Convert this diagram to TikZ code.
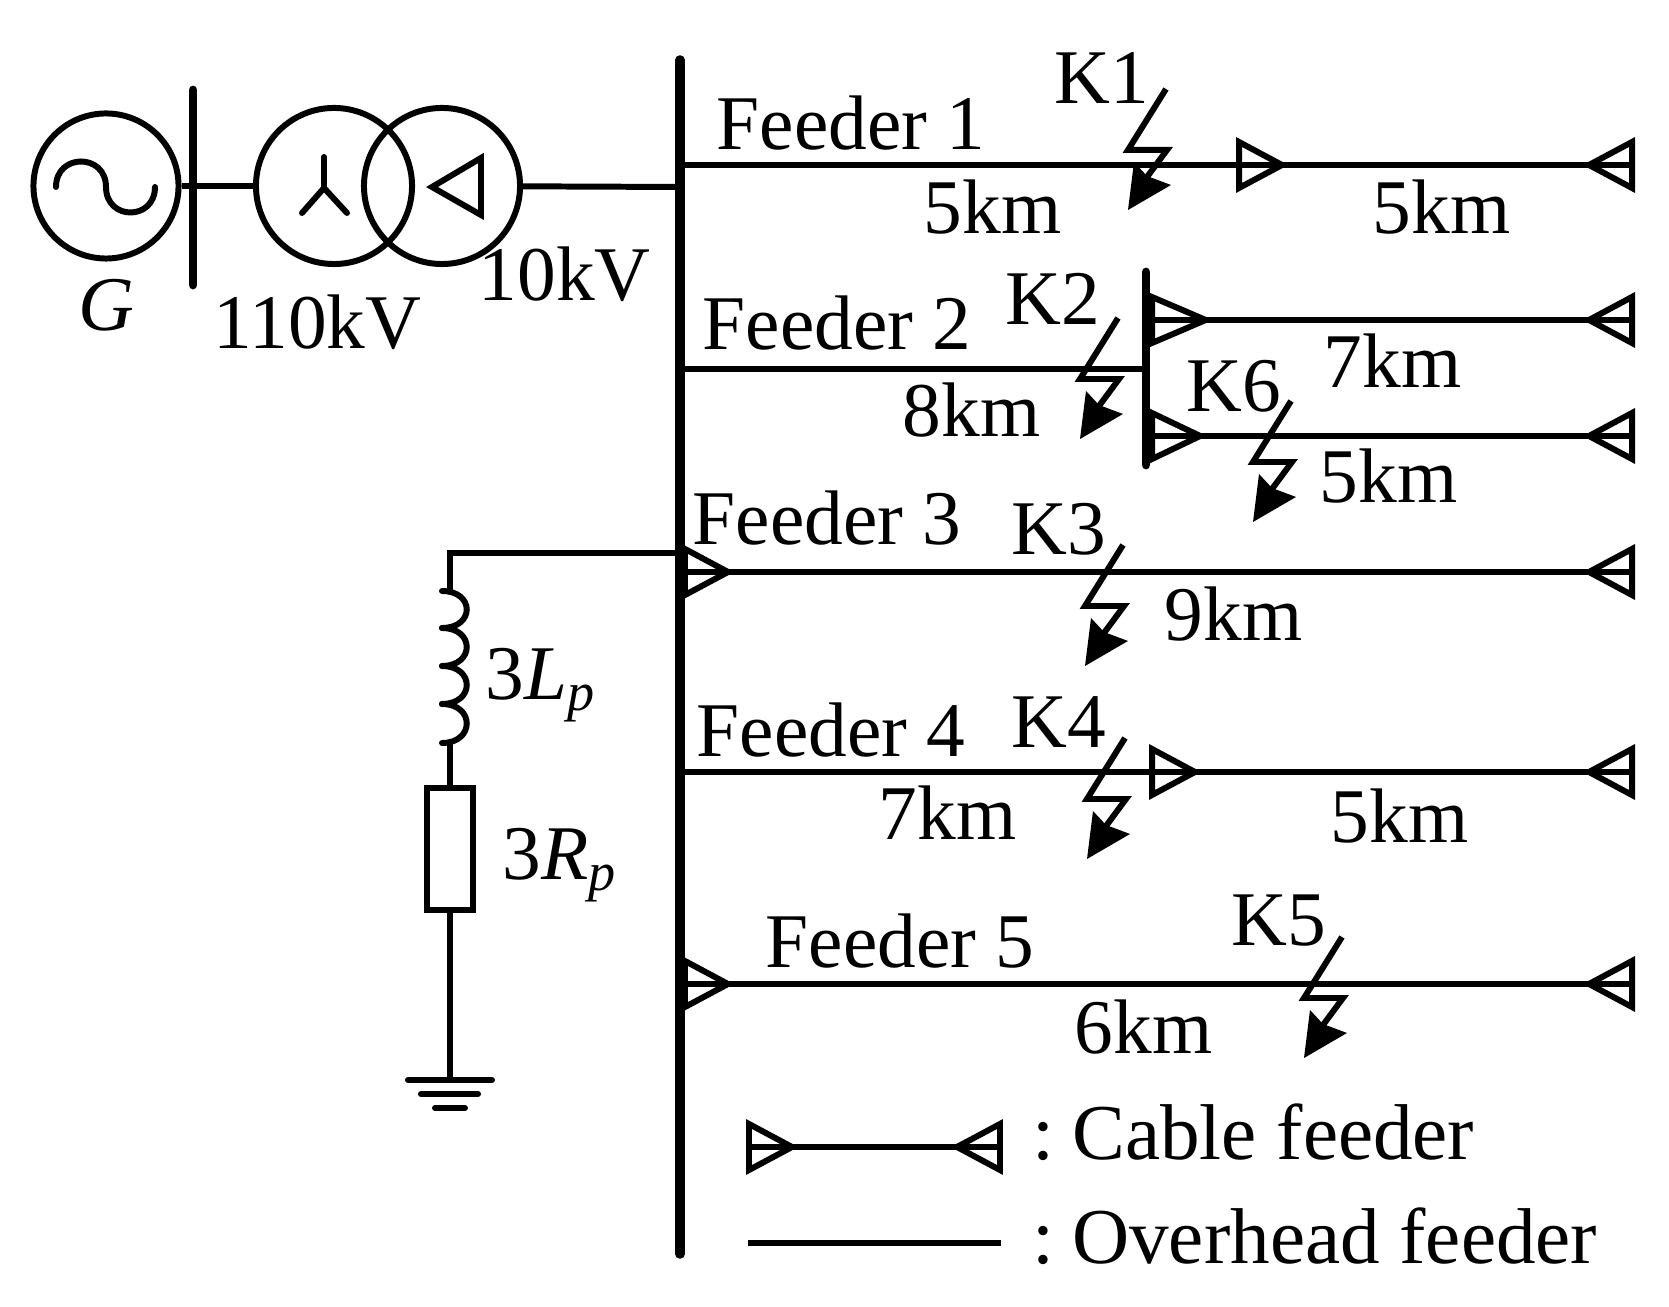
\documentclass[tikz,border=0pt]{standalone}
\usepackage{fontspec}
\setmainfont{Liberation Serif}
\usetikzlibrary{positioning}

\tikzset{
  wire/.style={line width=1.7pt},
  busbar/.style={line width=2.5pt,line cap=round},
  lbl/.style={anchor=base west,inner sep=0pt,font=\fontsize{22}{24}\selectfont},
  leglbl/.style={lbl,font=\fontsize{22.5}{24}\selectfont},
  ring/.style={circle,draw,line width=1.7pt,inner sep=0pt,minimum size=1.56cm},
  % cable terminal, the feeder runs through it
  cableend/.pic={\draw[wire] (0,-23) -- (43,0) -- (0,23) -- cycle;},
  % fault mark with its arrow
  fault/.pic={
    \draw[wire] (0,0) -- (-38,61) -- (1,61) -- (-19,88);
    \fill (-38,121) -- (5,96) -- (-19,87) -- (-32,73) -- cycle;
  }
}

\begin{document}
\begin{tikzpicture}[x=0.01cm,y=-0.01cm]
  \useasboundingbox (0,0) rectangle (1669,1307);

  % source side
  \node[ring,minimum size=1.45cm] (gen) at (106,186) {};
  \node[ring] (tra) at (334,186) {};
  \node[ring] (trb) at (442,186) {};
  \draw[busbar] (193,90) -- (193,285);
  \draw[wire] (gen) -- (tra);
  \draw[wire,line cap=round] (56,187) .. controls (56,153) and (106,153) .. (106,187)
                       .. controls (106,221) and (155,221) .. (155,187);
  \draw[wire,line cap=round] (324,157) -- (324,188) -- (302,213);
  \draw[wire,line cap=round] (324,188) -- (347,213);
  \draw[wire] (481,158) -- (432,187) -- (481,215) -- cycle;

  % main bus
  \coordinate (bustop) at (680,60);
  \coordinate (busbot) at (680,1254);
  \draw[busbar,line width=2.7pt] (bustop) -- (busbot);
  \coordinate (busT) at (680,187);
  \draw[wire] (trb) -- (busT);

  % feeders
  \coordinate (f1a) at (680,165);  \coordinate (f1b) at (1632,165);
  \coordinate (f2a) at (680,369);  \coordinate (f2b) at (1146,369);
  \coordinate (f3a) at (680,572);  \coordinate (f3b) at (1632,572);
  \coordinate (f4a) at (680,772);  \coordinate (f4b) at (1632,772);
  \coordinate (f5a) at (680,984);  \coordinate (f5b) at (1632,984);
  \coordinate (f2ca) at (1146,320); \coordinate (f2cb) at (1632,320);
  \coordinate (f2da) at (1146,436); \coordinate (f2db) at (1632,436);
  \draw[wire] (f1a) -- (f1b);
  \draw[wire] (f2a) -- (f2b);
  \draw[wire] (f3a) -- (f3b);
  \draw[wire] (f4a) -- (f4b);
  \draw[wire] (f5a) -- (f5b);
  \draw[wire] (f2ca) -- (f2cb);
  \draw[wire] (f2da) -- (f2db);
  \draw[busbar] (1146,272) -- (1146,465);

  % cable terminals
  \pic at (1239,165) {cableend};
  \pic[xscale=1.25] at (1152,320) {cableend};
  \pic[xscale=1.12] at (1152,436) {cableend};
  \pic at (685,572) {cableend};
  \pic at (1152,772) {cableend};
  \pic at (685,984) {cableend};
  \pic[xscale=-1] at (f1b) {cableend};
  \pic[xscale=-1] at (f2cb) {cableend};
  \pic[xscale=-1] at (f2db) {cableend};
  \pic[xscale=-1] at (f3b) {cableend};
  \pic[xscale=-1] at (f4b) {cableend};
  \pic[xscale=-1] at (f5b) {cableend};

  % faults
  \pic at (1166,89) {fault};
  \pic at (1118,318) {fault};
  \pic at (1291,401) {fault};
  \pic at (1123,545) {fault};
  \pic at (1125,738) {fault};
  \pic at (1342,937) {fault};

  % neutral branch
  \coordinate (nbus) at (680,553);
  \coordinate (ncorner) at (450,553);
  \coordinate (coiltop) at (450,591);
  \coordinate (coilbot) at (450,743);
  \coordinate (earth) at (450,1080);
  \node[draw,line width=1.7pt,inner sep=0pt,minimum width=0.46cm,minimum height=1.22cm] (res) at (450,849) {};
  \draw[wire] (nbus) -- (ncorner) -- (coiltop);
  \foreach \ya/\yb in {591/628,628/666,666/704,704/743}
    \draw[wire,line cap=round] (442,\ya) .. controls (475,\ya) and (475,\yb) .. (442,\yb);
  \draw[wire] (coilbot) -- (res);
  \draw[wire] (res) -- (earth);
  \draw[wire,line cap=round] (408,1080) -- (492,1080);
  \draw[wire,line cap=round] (421,1094) -- (478,1094);
  \draw[wire,line cap=round] (435,1108) -- (465,1108);

  % legend
  \coordinate (lega) at (749,1147);  \coordinate (legb) at (1000,1147);
  \coordinate (legc) at (748,1243);  \coordinate (legd) at (1001,1243);
  \draw[wire] (lega) -- (legb);
  \draw[wire] (legc) -- (legd);
  \pic at (lega) {cableend};
  \pic[xscale=-1] at (legb) {cableend};
  \node[leglbl] (legcable) at (1032,1160) {:\hspace{5pt}Cable feeder};
  \node[leglbl] (legover) at (1032,1264) {:\hspace{5pt}Overhead feeder};

  % labels
  \node[lbl] (lg) at (78,331) {\textit{G}};
  \node[lbl] (lhv) at (213,349) {110kV};
  \node[lbl] (llv) at (478,301) {10kV};
  \node[lbl] (lf1) at (716,150) {Feeder 1};
  \node[lbl] (lf2) at (702,350) {Feeder 2};
  \node[lbl] (lf3) at (692,545) {Feeder 3};
  \node[lbl] (lf4) at (696,757) {Feeder 4};
  \node[lbl] (lf5) at (765,968) {Feeder 5};
  \node[lbl] (lk1) at (1054,104) {K1};
  \node[lbl] (lk2) at (1005,325) {K2};
  \node[lbl] (lk3) at (1011,555) {K3};
  \node[lbl] (lk4) at (1011,748) {K4};
  \node[lbl] (lk5) at (1231,946) {K5};
  \node[lbl] (lk6) at (1186,412) {K6};
  \node[lbl] (l1a) at (923,234) {5km};
  \node[lbl] (l1b) at (1372,234) {5km};
  \node[lbl] (l2a) at (902,437) {8km};
  \node[lbl] (l2b) at (1323,388) {7km};
  \node[lbl] (l2c) at (1319,503) {5km};
  \node[lbl] (l3a) at (1164,641) {9km};
  \node[lbl] (l4a) at (878,840) {7km};
  \node[lbl] (l4b) at (1330,843) {5km};
  \node[lbl] (l5a) at (1074,1054) {6km};
  \node[lbl] (ll) at (485,700) {3\textit{L}\textsubscript{\textit{p}}};
  \node[lbl] (lr) at (502,880) {3\textit{R}\textsubscript{\textit{p}}};
\end{tikzpicture}
\end{document}
